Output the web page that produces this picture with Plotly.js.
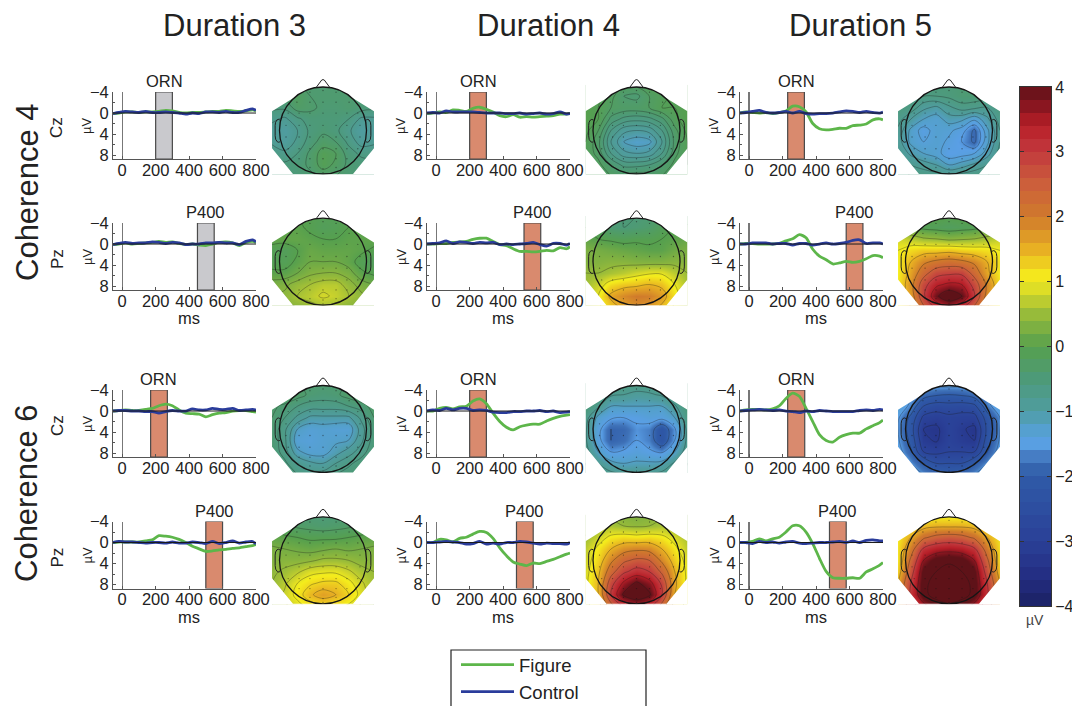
<!DOCTYPE html>
<html>
<head>
<meta charset="utf-8">
<script src="https://cdn.plot.ly/plotly-3.0.1.min.js"></script>
<style>html,body{margin:0;padding:0;background:#fff}#c{width:1072px;height:706px}</style>
</head>
<body>
<div id="c"></div>
<script>
// ---------- data ----------
const durations = ['Duration 3', 'Duration 4', 'Duration 5'];
const coherences = ['Coherence 4', 'Coherence 6'];
const channels = ['Cz', 'Pz', 'Cz', 'Pz'];
const components = ['ORN', 'P400', 'ORN', 'P400'];
const times = [-55,-20,20,60,100,140,180,220,260,300,340,380,420,460,500,540,580,620,660,700,740,780,800];

// windows: [row][col] = [start, end] ms
const windows = [
  [[200,300],[200,300],[230,330]],
  [[450,550],[525,625],[580,680]],
  [[170,270],[200,300],[230,332]],
  [[500,600],[480,580],[480,580]]
];
const windowActive = [[false,true,true],[false,true,true],[true,true,true],[true,true,true]];

// ERP curves, figure condition
const figure11 = [0.1,0,-0.2,-0.2,-0.1,-0.2,-0.2,-0.3,-0.5,-0.4,-0.1,0,-0.1,-0.1,-0.2,-0.3,-0.3,-0.5,-0.4,-0.3,-0.4,-0.6,-0.4];
const figure21 = [0.1,0,-0.2,0,-0.1,-0.2,-0.3,-0.5,-0.3,-0.4,-0.1,0.1,0,0.2,0.3,0,-0.3,-0.4,-0.2,0.3,-0.3,-0.5,-0.3];
const figure31 = [0,-0.1,-0.2,-0.1,-0.1,-0.3,-0.5,-1.0,-1.3,-1.0,-0.2,0.4,0.5,0.6,1.1,0.7,0.4,0.3,0,-0.1,-0.1,0.1,0.2];
const figure41 = [0,-0.1,-0.1,-0.1,-0.1,-0.3,-0.5,-1.3,-1.2,-1.0,-0.6,0,0.7,1.2,1.7,1.6,1.4,1.3,1.1,1.0,0.8,0.6,0.4];
const figure12 = [0.1,0,-0.2,-0.1,-0.6,-0.5,-0.3,-0.9,-1.1,-0.7,-0.2,0.5,0.7,0.3,0.8,0.7,0.8,0.7,0.6,0.5,0.2,0.2,0.1];
const figure22 = [0,0,-0.1,-0.1,-0.3,-0.4,-0.5,-0.9,-1.1,-1.1,-0.5,0.1,0.3,0.9,1.4,1.4,1.5,1.4,1.2,1.3,0.7,0.9,0.5];
const figure32 = [0,0,-0.5,-0.7,-0.4,-0.8,-0.9,-1.9,-2.3,-1.4,0.4,2.0,3.1,3.6,3.0,2.7,2.5,2.5,1.9,1.4,1.0,0.8,0.7];
const figure42 = [0,0,-0.6,-0.5,-0.1,-0.8,-1.0,-1.6,-2.1,-1.9,-0.8,1.0,2.5,3.7,4.1,4.4,3.9,4.0,3.6,3.2,2.7,2.2,2.0];
const figure13 = [0,-0.2,-0.1,0,-0.1,0.1,-0.1,-0.4,-1.3,-1.2,-0.2,2.0,3.0,3.2,3.1,2.9,2.9,2.4,2.3,2.1,1.3,1.1,1.3];
const figure23 = [0,-0.1,-0.1,0,0,0,-0.1,-0.6,-1,-1.8,-1.2,1.0,2.3,3.0,3.8,3.6,3.3,3.5,3.3,2.8,2.2,2.3,2.6];
const figure33 = [0,-0.2,-0.3,-0.3,-0.2,-0.4,-1.0,-2.4,-3.4,-2.8,-0.5,2.0,4.5,5.6,5.9,5.0,4.5,4.2,4.2,3.4,2.8,2.2,1.7];
const figure43 = [0,0,-0.2,-0.7,-0.3,-0.7,-1.0,-2.0,-3.2,-3.2,-2.0,0.2,3.0,5.5,6.7,6.8,6.8,6.7,6.8,5.6,5.0,4.3,3.8];

// ERP curves, control condition
const control11 = [0.1,-0.1,-0.3,-0.2,-0.1,-0.3,-0.1,-0.1,-0.2,-0.1,0,0.2,0,0.1,-0.2,-0.2,-0.1,-0.3,-0.1,-0.1,-0.5,-0.8,-0.5];
const control21 = [0.1,-0.1,-0.3,-0.1,-0.2,-0.2,-0.4,-0.3,-0.1,-0.3,-0.2,0.1,0,0,-0.2,-0.2,-0.3,-0.2,-0.2,0.1,-0.5,-0.8,-0.4];
const control31 = [0,-0.1,-0.1,0,0,0.1,0.1,0.4,0.1,-0.1,0,0,-0.4,-0.2,-0.2,-0.5,-0.3,-0.3,-0.5,-0.1,-0.2,-0.3,-0.2];
const control41 = [0,-0.2,-0.1,-0.1,0,0.1,0,0,0.1,-0.1,0.1,0.1,-0.1,0,0.2,-0.2,0.2,0,-0.3,0.1,-0.1,-0.2,0.3];
const control12 = [0,-0.1,0,-0.4,-0.2,-0.2,-0.2,-0.2,-0.1,0,0,0,0.1,0.1,0,0.2,0.1,0,0.2,0.1,-0.2,0.2,0.1];
const control22 = [0,-0.1,-0.2,-0.6,-0.1,-0.4,-0.3,-0.1,-0.3,-0.2,-0.3,0.1,0,0.1,0,-0.1,-0.3,0.1,0.4,-0.1,-0.1,0.2,-0.1];
const control32 = [0,-0.2,-0.1,-0.5,-0.2,-0.5,-0.5,-0.1,-0.2,-0.1,0.2,0.3,0.3,0.1,0.1,0,0,-0.1,0.1,0,0.3,0.2,0.1];
const control42 = [0,0,-0.1,-0.2,-0.1,0,0.3,0.2,-0.2,0.3,0.1,0.3,0,0,-0.2,-0.1,0.1,0.3,0.1,0.2,0.2,0.3,0];
const control13 = [0,-0.1,-0.3,-0.5,-0.1,0,-0.1,-0.3,0,-0.3,0.1,0.2,0.1,0.1,0,-0.2,-0.4,-0.3,-0.1,-0.3,-0.1,0,-0.2];
const control23 = [0,0,-0.2,-0.2,-0.2,0,-0.1,-0.1,0.2,-0.1,-0.1,0.2,0,-0.2,0,-0.1,-0.3,-0.7,-0.8,-0.1,-0.2,-0.2,0];
const control33 = [0,-0.1,-0.2,-0.3,-0.2,-0.1,-0.2,0,0.1,0.3,0,0.1,-0.1,0,0.1,0.1,0.1,0.1,-0.1,-0.2,-0.1,-0.3,-0.2];
const control43 = [0,0,0.2,-0.2,0,-0.1,0.1,-0.1,-0.2,0.1,0.2,0.1,0,0,-0.1,-0.2,0,-0.3,0,-0.4,-0.5,-0.3,-0.3];

const figureSeries = [[figure11,figure12,figure13],[figure21,figure22,figure23],[figure31,figure32,figure33],[figure41,figure42,figure43]];
const controlSeries = [[control11,control12,control13],[control21,control22,control23],[control31,control32,control33],[control41,control42,control43]];

// scalp grids: rows listed from front of head (top) to back (bottom), µV
const scalpX = [-1.172,-0.879,-0.586,-0.293,0,0.293,0.586,0.879,1.172];
const scalpY = [1.05,0.79,0.525,0.26,0,-0.26,-0.525,-0.79,-1.05];
const scalp11 = [
 [-.4,-.4,-.4,-.4,-.4,-.4,-.4,-.4,-.4],
 [-.45,-.35,-.2,-.4,-.4,-.4,-.4,-.45,-.45],
 [-.55,-.55,-.3,-.35,-.45,-.45,-.4,-.5,-.55],
 [-.75,-.85,-.65,-.5,-.5,-.5,-.6,-.85,-.85],
 [-.9,-1.0,-.8,-.55,-.45,-.55,-.75,-1.0,-.95],
 [-.85,-.95,-.75,-.5,-.3,-.4,-.65,-.9,-.85],
 [-.65,-.75,-.6,-.35,-.1,-.2,-.5,-.65,-.65],
 [-.55,-.55,-.5,-.35,-.1,-.25,-.45,-.5,-.55],
 [-.55,-.55,-.5,-.45,-.35,-.4,-.45,-.5,-.55]];
const scalp21 = [
 [0,0,0,-.05,-.1,-.1,0,0,0],
 [.05,.05,.05,-.05,-.15,-.1,0,.05,.05],
 [.1,.1,.1,.05,0,0,.05,.05,.1],
 [-.1,-.15,0,.15,.1,.1,.1,.05,-.05],
 [-.1,-.1,.05,.2,.2,.2,.1,-.1,-.2],
 [.05,.05,.2,.35,.4,.4,.3,.05,-.05],
 [.3,.35,.5,.6,.7,.7,.5,.3,.2],
 [.4,.45,.6,.7,.85,.75,.6,.45,.3],
 [.3,.35,.4,.5,.55,.5,.4,.35,.3]];
const scalp31 = [
 [-.35,-.35,-.4,-.4,-.4,-.4,-.4,-.35,-.35],
 [-.15,-.2,-.3,-.45,-.5,-.45,-.3,-.2,-.15],
 [-.35,-.45,-.6,-.7,-.7,-.7,-.6,-.5,-.3],
 [-.4,-.6,-.85,-1.05,-1.05,-1.05,-1.05,-.75,-.4],
 [-.45,-.75,-1.2,-1.35,-1.3,-1.35,-1.35,-.9,-.5],
 [-.45,-.75,-1.35,-1.4,-1.3,-1.25,-1.2,-.85,-.5],
 [-.45,-.7,-1.15,-1.3,-1.3,-1.1,-.9,-.7,-.45],
 [-.4,-.55,-.8,-.95,-1.0,-.8,-.65,-.5,-.4],
 [-.4,-.45,-.6,-.7,-.7,-.6,-.5,-.45,-.4]];
const scalp41 = [
 [-.45,-.45,-.5,-.5,-.5,-.5,-.5,-.45,-.45],
 [-.1,-.2,-.3,-.35,-.4,-.35,-.3,-.2,-.1],
 [.1,.05,0,-.05,-.05,-.05,0,.05,.1],
 [.3,.25,.2,.15,.2,.25,.2,.25,.3],
 [.35,.4,.4,.45,.55,.55,.5,.4,.4],
 [.45,.55,.7,.9,.95,.95,.8,.6,.5],
 [.5,.7,1,1.2,1.3,1.3,1.1,.8,.55],
 [.5,.8,1.1,1.45,1.65,1.5,1.25,.9,.5],
 [.5,.7,.9,1.1,1.2,1.1,.95,.7,.5]];
const scalp12 = [
 [0,0,-.1,-.2,-.2,-.1,-.05,0,0],
 [0,-.05,-.2,-.4,-.45,-.25,-.15,-.05,0],
 [0,-.1,-.25,-.3,-.3,-.25,-.1,-.1,0],
 [0,-.1,-.45,-.6,-.65,-.6,-.45,-.15,0],
 [-.05,-.25,-.7,-.95,-1.0,-.95,-.7,-.3,-.05],
 [-.1,-.35,-.85,-1.15,-1.25,-1.2,-.85,-.35,-.1],
 [-.15,-.3,-.7,-.95,-1.0,-.95,-.7,-.3,-.1],
 [-.1,-.2,-.4,-.6,-.6,-.55,-.4,-.2,-.1],
 [-.15,-.2,-.25,-.3,-.3,-.3,-.25,-.2,-.15]];
const scalp22 = [
 [-.3,-.4,-.45,-.5,-.5,-.45,-.4,-.3,-.3],
 [0,-.2,-.45,-.5,-.45,-.35,-.15,0,.1],
 [.1,0,-.05,-.1,-.05,-.05,0,.05,.15],
 [.3,.25,.2,.15,.1,.05,.05,.2,.3],
 [.35,.35,.4,.4,.35,.35,.35,.4,.4],
 [.5,.5,.6,.7,.85,.95,.95,.7,.5],
 [.55,.8,1.2,1.35,1.4,1.5,1.4,1.0,.6],
 [.6,1.0,1.6,1.85,2.0,1.95,1.7,1.15,.6],
 [.6,.9,1.3,1.6,1.8,1.7,1.4,.9,.6]];
const scalp32 = [
 [-.5,-.5,-.55,-.6,-.6,-.6,-.55,-.5,-.5],
 [-.35,-.5,-.8,-.85,-.95,-.9,-.8,-.5,-.35],
 [-.5,-.8,-1.2,-1.2,-1.2,-1.2,-1.2,-.9,-.5],
 [-.7,-1.3,-1.5,-1.55,-1.5,-1.4,-1.45,-1.2,-.6],
 [-.8,-1.45,-1.9,-1.85,-1.6,-1.7,-2.2,-1.6,-.75],
 [-.8,-1.45,-1.9,-1.8,-1.55,-1.7,-2.2,-1.55,-.75],
 [-.7,-1.2,-1.55,-1.5,-1.4,-1.5,-1.6,-1.2,-.65],
 [-.5,-.85,-1.1,-1.2,-1.15,-1.15,-1.1,-.8,-.5],
 [-.45,-.6,-.75,-.8,-.8,-.8,-.75,-.6,-.45]];
const scalp42 = [
 [.3,.35,.4,.35,.3,.35,.4,.35,.3],
 [.3,.5,.6,.5,.45,.5,.6,.5,.3],
 [.55,.8,1.1,1.2,1.15,1.2,1.1,.85,.6],
 [.7,1.1,1.5,1.8,1.9,1.85,1.5,1.1,.7],
 [.8,1.25,1.9,2.4,2.6,2.5,1.9,1.3,.85],
 [.85,1.4,2.3,2.9,3.2,3.0,2.4,1.5,.9],
 [.9,1.5,2.8,3.6,4.1,3.7,2.9,1.6,.9],
 [.9,1.5,3.0,4.1,4.4,4.1,3.0,1.5,.9],
 [.85,1.3,2.3,3.1,3.5,3.2,2.3,1.3,.85]];
const scalp13 = [
 [-.5,-.5,-.5,-.5,-.5,-.45,-.45,-.5,-.5],
 [-.55,-.55,-.6,-.6,-.55,-.45,-.45,-.5,-.5],
 [-.6,-.65,-.95,-1.05,-.85,-.7,-.75,-.8,-.6],
 [-.7,-1.0,-1.2,-1.3,-1.1,-1.15,-1.35,-1.05,-.7],
 [-.85,-1.25,-1.5,-1.3,-1.35,-1.5,-1.85,-1.25,-.8],
 [-.9,-1.25,-1.4,-1.3,-1.45,-1.6,-1.85,-1.25,-.8],
 [-.8,-1.05,-1.2,-1.3,-1.55,-1.5,-1.4,-1.1,-.7],
 [-.6,-.8,-.9,-1.0,-1.2,-1.1,-.95,-.8,-.55],
 [-.5,-.6,-.65,-.7,-.75,-.7,-.65,-.6,-.5]];
const scalp23 = [
 [.1,.1,.1,.05,0,.05,.1,.1,.1],
 [.05,.1,-.1,-.15,-.2,-.15,-.1,.1,.05],
 [.85,.7,.55,.5,.4,.45,.5,.6,.8],
 [1.0,1.2,1.3,1.3,1.35,1.25,1.2,1.15,1.0],
 [1.05,1.5,1.9,2.1,2.2,2.1,1.9,1.5,1.1],
 [1.05,1.65,2.3,2.8,2.9,2.9,2.3,1.6,1.05],
 [1.1,1.8,2.8,3.4,3.6,3.5,2.8,1.9,1.15],
 [1.1,1.7,2.9,3.9,4.4,4.0,3.0,1.8,1.1],
 [1.0,1.5,2.4,3.1,3.5,3.1,2.4,1.5,1.0]];
const scalp33 = [
 [-1.3,-1.3,-1.35,-1.4,-1.4,-1.4,-1.35,-1.3,-1.3],
 [-.9,-1.5,-1.8,-1.95,-2.0,-1.95,-1.8,-1.5,-.9],
 [-1.3,-1.7,-2.4,-2.6,-2.55,-2.6,-2.5,-1.75,-1.3],
 [-1.55,-2.1,-2.9,-3.0,-2.9,-2.95,-2.95,-2.2,-1.6],
 [-1.6,-2.2,-3.2,-3.3,-2.9,-3.15,-3.3,-2.3,-1.6],
 [-1.55,-2.1,-3.1,-3.25,-2.9,-3.1,-3.2,-2.2,-1.55],
 [-1.4,-1.95,-2.8,-2.9,-2.8,-2.8,-2.8,-2.0,-1.4],
 [-1.0,-1.6,-2.0,-2.4,-2.4,-2.4,-2.0,-1.6,-1.0],
 [-.9,-1.3,-1.6,-1.8,-1.9,-1.8,-1.6,-1.3,-.9]];
const scalp43 = [
 [.9,.9,.95,.95,.95,.95,.95,.9,.9],
 [.9,1.1,1.4,1.5,1.5,1.5,1.4,1.1,.9],
 [1.1,1.6,2.2,2.5,2.6,2.5,2.2,1.6,1.1],
 [1.15,2.0,3.1,3.4,3.5,3.4,3.1,2.0,1.15],
 [1.15,2.4,3.7,4.2,4.3,4.2,3.7,2.4,1.15],
 [1.3,2.7,4.1,4.4,4.6,4.4,4.1,2.7,1.3],
 [1.6,3.0,4.2,4.7,4.9,4.7,4.2,3.0,1.6],
 [1.7,3.1,4.2,4.7,5.0,4.7,4.2,3.1,1.7],
 [1.6,2.6,3.5,4.0,4.2,4.0,3.5,2.6,1.6]];
const scalpMaps = [[scalp11,scalp12,scalp13],[scalp21,scalp22,scalp23],[scalp31,scalp32,scalp33],[scalp41,scalp42,scalp43]];
const scalpSteps = [[.2,.15,.2],[.2,.5,.5],[.2,.35,.4],[.25,.5,.7]];

// electrode sites
const electrodeX = [-.3,0,.3,-.6,-.3,0,.3,.6,-.8,-.55,-.3,0,.3,.55,.8,-.85,-.55,-.3,0,.3,.55,.85,-.85,-.55,-.3,0,.3,.55,.85,-.8,-.55,-.3,0,.3,.55,.8,-.55,-.3,0,.3,.55,-.3,0,.3,0];
const electrodeY = [.88,.92,.88,.65,.65,.65,.65,.65,.4,.4,.4,.4,.4,.4,.4,.12,.12,.12,.12,.12,.12,.12,-.15,-.15,-.15,-.15,-.15,-.15,-.15,-.42,-.42,-.42,-.42,-.42,-.42,-.42,-.65,-.65,-.65,-.65,-.65,-.85,-.88,-.85,-.97];

// colour map stops: value in µV, colour
const mapValues = [-4,-3.6,-3,-2,-1.75,-1.55,-1.25,-1,-.5,0,.5,.85,1.05,1.5,2,2.5,3,3.4,3.7,4];
const mapColors = ['#1b2162','#232c80','#2a4097','#2f5ba8','#3f72b8','#5a9fe6','#54a0cc','#4f9ca0','#4d9a78','#56a04e','#97bb3a','#d6d829','#f5ee1c','#e8b023','#d07a2c','#cc5f3b','#c23a3e','#b81f28','#8a1620','#5e1218'];
// colour bar cells (upper value of each band)
const barEdges = [-4,-3.8,-3.6,-3.4,-3.2,-3,-2.8,-2.6,-2.4,-2.2,-2,-1.8,-1.6,-1.4,-1.2,-1,-.8,-.6,-.4,-.2,0,.2,.4,.6,.8,1,1.2,1.4,1.6,1.8,2,2.2,2.4,2.6,2.8,3,3.2,3.4,3.6,3.8,4];
const barLevels = [-3.9,-3.7,-3.5,-3.3,-3.1,-2.9,-2.7,-2.5,-2.3,-2.1,-1.9,-1.7,-1.5,-1.3,-1.1,-.9,-.7,-.5,-.3,-.1,.1,.3,.5,.7,.9,1.1,1.3,1.5,1.7,1.9,2.1,2.3,2.5,2.7,2.9,3.1,3.3,3.5,3.7,3.9];
const barTicks = [-4,-3,-2,-1,0,1,2,3,4];
const legendNames = ['Figure', 'Control'];

// ---------- layout geometry (pixels) ----------
const W = 1072, H = 706;
const FONT = 'Liberation Sans, Arial, sans-serif';
const TXT = '#222';
const colLeft = [113, 427, 740];
const rowTop = [92, 223, 390, 521.5];
const panelW = 143, panelH = 67;
const headCx = [323, 636.5, 949], headCy = [130.5, 261.7, 429, 560.3];
const R = 43.5, headHalf = 51, headTop = 1.2, headBot = -1.01;
const px = v => v / W, py = v => 1 - v / H;
const colorscale = mapValues.map((v, i) => [(v + 4) / 8, mapColors[i]]);

const traces = [], shapes = [], annotations = [];
const layout = {
  width: W, height: H, margin: {l:0,r:0,t:0,b:0,autoexpand:false}, paper_bgcolor:'#fff', plot_bgcolor:'rgba(0,0,0,0)',
  font:{family:FONT,color:TXT,size:16}, hovermode:false, showlegend:true,
  legend:{x:px(456),y:py(646),xanchor:'left',yanchor:'top',font:{family:FONT,size:18.5,color:TXT},itemwidth:53,bgcolor:'rgba(0,0,0,0)',borderwidth:0,tracegroupgap:0},
  shapes, annotations
};
let axis = 0;
function newAxes(xa, ya) {
  axis++;
  const sx = axis === 1 ? '' : String(axis);
  xa.anchor = 'y' + sx; ya.anchor = 'x' + sx;
  layout['xaxis' + sx] = xa; layout['yaxis' + sx] = ya;
  return ['x' + sx, 'y' + sx];
}
function label(x, y, text, size, angle, color) {
  annotations.push({xref:'paper', yref:'paper', x:px(x), y:py(y), xanchor:'center', yanchor:'middle', text, textangle:angle || 0, showarrow:false,
    font:{family:FONT,size,color:color || TXT}});
}

// ---------- ERP panels ----------
channels.forEach((ch, r) => {
  durations.forEach((d, c) => {
    const left = colLeft[c], top = rowTop[r];
    const lastRow = r === 1 || r === 3;
    const xa = {
      domain:[px(left), px(left + panelW)], range:[-55,800], tickvals:[0,200,400,600,800], ticks:'inside', ticklen:3, tickwidth:1,
      tickcolor:'#555', showline:true, linecolor:'#555', linewidth:1, showgrid:false, ticklabelstandoff:-4,
      zeroline:true, zerolinecolor:'#777', zerolinewidth:c === 2 ? 2 : 1.4, tickfont:{family:FONT,size:16.5,color:TXT}, fixedrange:true
    };
    const ya = {
      domain:[py(top + panelH), py(top)], range:[8.75,-4], tickvals:[-4,0,4,8], ticks:'inside', ticklen:3, tickwidth:1,
      tickcolor:'#555', showline:true, linecolor:'#555', linewidth:1, showgrid:false, zeroline:false,
      minor:{tickvals:[-2,2,6], ticks:'inside', ticklen:2, tickcolor:'#555'},
      tickfont:{family:FONT,size:16.5,color:TXT}, fixedrange:true
    };
    const [xr, yr] = newAxes(xa, ya);
    const w = windows[r][c];
    shapes.push({type:'rect', xref:xr, yref:yr, x0:w[0], x1:w[1], y0:-4, y1:8.75, layer:'below',
      fillcolor: windowActive[r][c] ? '#d98a6e' : '#c9c9cd', line:{color:'#4a4a4a',width:1.2}});
    traces.push({type:'scatter', mode:'lines', x:times, y:figureSeries[r][c], xaxis:xr, yaxis:yr, name:legendNames[0],
      legendgroup:'f', showlegend:r===0&&c===0, line:{color:'#5db64a',width:2.8,shape:'spline',smoothing:0.7}, hoverinfo:'skip'});
    traces.push({type:'scatter', mode:'lines', x:times, y:controlSeries[r][c], xaxis:xr, yaxis:yr, name:legendNames[1],
      legendgroup:'c', showlegend:r===0&&c===0, line:{color:'#2a3c9b',width:2.8,shape:'spline',smoothing:0.7}, hoverinfo:'skip'});
    shapes.push({type:'line', xref:xr, yref:yr, x0:-55, x1:800, y0:0, y1:0, layer:'above', line:{color:'#1a1a1a',width:1}});
    annotations.push({xref:xr, yref:yr, x:(w[0]+w[1])/2, y:-4, xanchor:'center', yanchor:'bottom', yshift:0, showarrow:false, text:components[r],
      font:{family:FONT,size:16.5,color:TXT}});
    label(left - 26, top + 34, 'µV', 13, -90);
    if (lastRow) label(left + 76, top + 95, 'ms', 16.5);
    if (c === 0) label(57, top + 36, ch, 17, -90);
  });
});

// ---------- scalp maps ----------
function arcPoints(a0, a1, n) {
  const pts = [];
  for (let i = 0; i <= n; i++) {
    const a = (a0 + (a1 - a0) * i / n) * Math.PI / 180;
    pts.push([Math.cos(a), Math.sin(a)]);
  }
  return pts;
}
const hx = headHalf / R;
const topArc = arcPoints(128.5, 51.5, 24).map(p => p[0].toFixed(3) + ',' + p[1].toFixed(3)).join(' L');
const topMask = `M${-hx-0.1},0.44 L${-hx},0.44 L${topArc} L${hx},0.44 L${hx+0.1},0.44 L${hx+0.1},${headTop+0.1} L${-hx-0.1},${headTop+0.1} Z`;
const botMask = `M${-hx-0.1},-0.41 L${-hx},-0.41 L-0.69,-1.0 L0.69,-1.0 L${hx},-0.41 L${hx+0.1},-0.41 L${hx+0.1},-1.3 L${-hx-0.1},-1.3 Z`;
const nose = 'M-0.16,0.985 L-0.03,1.16 Q0,1.18 0.03,1.16 L0.16,0.985';
const earL = 'M-0.99,0.24 Q-1.03,0.27 -1.06,0.24 Q-1.10,0.2 -1.10,0.12 L-1.10,-0.12 Q-1.10,-0.22 -1.05,-0.26 Q-1.02,-0.28 -0.99,-0.26';
const earR = 'M0.99,0.24 Q1.03,0.27 1.06,0.24 Q1.10,0.2 1.10,0.12 L1.10,-0.12 Q1.10,-0.22 1.05,-0.26 Q1.02,-0.28 0.99,-0.26';
const yAsc = scalpY.slice().reverse();

channels.forEach((ch, r) => {
  durations.forEach((d, c) => {
    const cx = headCx[c], cy = headCy[r];
    const xa = {domain:[px(cx - headHalf), px(cx + headHalf)], range:[-hx,hx], visible:false, fixedrange:true};
    const ya = {domain:[py(cy - headBot * R), py(cy - headTop * R)], range:[headBot,headTop], visible:false, fixedrange:true};
    const [xr, yr] = newAxes(xa, ya);
    const step = scalpSteps[r][c];
    traces.push({type:'contour', x:scalpX, y:yAsc, z:scalpMaps[r][c].slice().reverse(), xaxis:xr, yaxis:yr,
      colorscale, zmin:-4, zmax:4, showscale:false, autocontour:false, showlegend:false, hoverinfo:'skip',
      contours:{coloring:'heatmap', start:-4, end:5, size:step},
      line:{color:'rgba(25,25,25,0.45)', width:0.7, smoothing:1}});
    traces.push({type:'scatter', mode:'markers', x:electrodeX, y:electrodeY, xaxis:xr, yaxis:yr, showlegend:false,
      marker:{color:'rgba(20,20,20,0.5)', size:1.3}, hoverinfo:'skip'});
    [topMask, botMask].forEach(p => shapes.push({type:'path', path:p, xref:xr, yref:yr, layer:'above', fillcolor:'#fff', line:{width:0}}));
    shapes.push({type:'circle', xref:xr, yref:yr, x0:-1, x1:1, y0:-1, y1:1, layer:'above', line:{color:'#151515',width:1.3}});
    [nose, earL, earR].forEach(p => shapes.push({type:'path', path:p, xref:xr, yref:yr, layer:'above', line:{color:'#222',width:1}}));
  });
});

// ---------- colour bar ----------
{
  const xa = {domain:[px(1020), px(1051)], range:[0,1], showticklabels:false, ticks:'', showline:true, mirror:true, linecolor:'#333', linewidth:1, showgrid:false, zeroline:false, fixedrange:true};
  const ya = {domain:[py(606), py(87)], range:[-4,4], tickvals:barTicks, side:'right', ticks:'inside', ticklen:4, tickcolor:'#333', showline:true, mirror:'ticks', linecolor:'#333', linewidth:1, showgrid:false, zeroline:false,
    tickfont:{family:FONT,size:16,color:TXT}, fixedrange:true};
  const [xr, yr] = newAxes(xa, ya);
  traces.push({type:'heatmap', x:[0,1], y:barEdges, z:barLevels.map(v => [v]), xaxis:xr, yaxis:yr, colorscale, zmin:-4, zmax:4, showscale:false, hoverinfo:'skip', showlegend:false});
}
label(1035, 620, 'µV', 14, 0, '#444');

// ---------- headings ----------
[234.5, 548, 861].forEach((x, i) => label(x, 25, durations[i], 31));
[192, 493].forEach((y, i) => label(27, y, coherences[i], 31, -90));

// legend frame (runs off the bottom of the page)
shapes.push({type:'rect', xref:'paper', yref:'paper', x0:px(451), x1:px(646), y0:py(720), y1:py(650), layer:'above', line:{color:'#222',width:1.2}, fillcolor:'rgba(0,0,0,0)'});

Plotly.newPlot('c', traces, layout, {staticPlot:true, displayModeBar:false});
</script>
</body>
</html>
